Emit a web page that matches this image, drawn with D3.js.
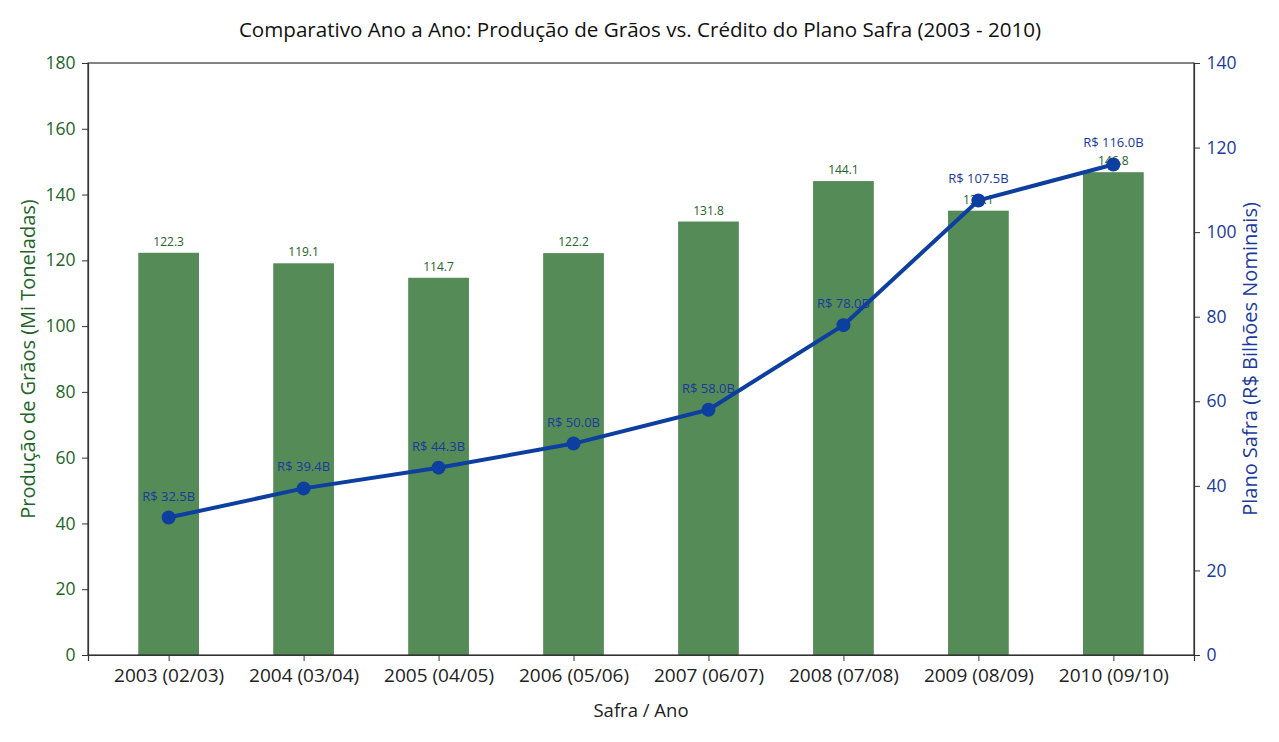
<!DOCTYPE html>
<html>
<head>
<meta charset="utf-8">
<script src="https://cdn.jsdelivr.net/npm/d3@7"></script>
<style>
  body { margin: 0; background: #fff; }
  svg { font-family: "Open Sans", Lato, sans-serif; }
</style>
</head>
<body>
<svg id="chart" width="1279" height="742"></svg>
<script>
// data
var safras = ["2003 (02/03)", "2004 (03/04)", "2005 (04/05)", "2006 (05/06)",
              "2007 (06/07)", "2008 (07/08)", "2009 (08/09)", "2010 (09/10)"];
var producao = [122.3, 119.1, 114.7, 122.2, 131.8, 144.1, 135.1, 146.8];
var credito = [32.5, 39.4, 44.3, 50.0, 58.0, 78.0, 107.5, 116.0];
var leftTicks = [0, 20, 40, 60, 80, 100, 120, 140, 160, 180];
var rightTicks = [0, 20, 40, 60, 80, 100, 120, 140];

var green = "#558b57", greenText = "#23642a", blue = "#0d3fa0", blueText = "#1a3a9c";

var svg = d3.select("#chart");
var margin = {left: 88, right: 85, top: 63, bottom: 87};
var width = 1279 - margin.left - margin.right;
var height = 742 - margin.top - margin.bottom;
var g = svg.append("g").attr("transform", `translate(${margin.left},${margin.top})`);

// bars 0.45 wide, matplotlib style margins
var barW = 0.45;
var pad = barW / 2 + (7 + barW) * 0.05;
var x = d3.scaleLinear().domain([-pad, 7 + pad]).range([0, width]);
var y = d3.scaleLinear().domain([0, 180]).range([height, 0]);
var y2 = d3.scaleLinear().domain([0, 140]).range([height, 0]);

g.selectAll("rect.bar")
  .data(producao)
  .join("rect")
  .attr("class", "bar")
  .attr("x", function (d, i) { return x(i - barW / 2); })
  .attr("width", x(barW) - x(0))
  .attr("y", function (d) { return y(d); })
  .attr("height", function (d) { return height - y(d); })
  .style("fill", green);

g.selectAll("text.barlab")
  .data(producao)
  .join("text")
  .attr("class", "barlab")
  .attr("x", function (d, i) { return x(i); })
  .attr("y", function (d) { return y(d) - 7; })
  .attr("text-anchor", "middle")
  .style("font-size", "12px")
  .style("fill", greenText)
  .text(function (d) { return d.toFixed(1); });

// credit line
var line = d3.line()
  .x(function (d, i) { return x(i); })
  .y(function (d) { return y2(d); });

g.append("path")
  .datum(credito)
  .attr("d", line)
  .style("fill", "none")
  .style("stroke", blue)
  .style("stroke-width", 4)
  .style("stroke-linejoin", "round");

g.selectAll("circle.pt")
  .data(credito)
  .join("circle")
  .attr("class", "pt")
  .attr("cx", function (d, i) { return x(i); })
  .attr("cy", function (d) { return y2(d); })
  .attr("r", 7)
  .style("fill", blue);

g.selectAll("text.ptlab")
  .data(credito)
  .join("text")
  .attr("class", "ptlab")
  .attr("x", function (d, i) { return x(i); })
  .attr("y", function (d) { return y2(d) - 17; })
  .attr("text-anchor", "middle")
  .style("font-size", "13px")
  .style("fill", blueText)
  .text(function (d) { return "R$ " + d.toFixed(1) + "B"; });

// frame
g.append("rect")
  .attr("width", width).attr("height", height)
  .style("fill", "none").style("stroke", "#333").style("stroke-width", 1.2);

// axes
var xAxis = g.append("g")
  .attr("transform", `translate(0,${height})`)
  .call(d3.axisBottom(x).tickValues(d3.range(safras.length))
    .tickFormat(function (i) { return safras[i]; }).tickSizeOuter(0).tickSize(6));
xAxis.selectAll("text").style("font-size", "19px").style("fill", "#222").attr("dy", "0.93em");

var yAxis = g.append("g")
  .call(d3.axisLeft(y).tickValues(leftTicks).tickSizeOuter(0).tickSize(6));
yAxis.selectAll("text").style("font-size", "17.5px").style("fill", greenText).attr("dx", "-0.2em");

var yAxis2 = g.append("g")
  .attr("transform", `translate(${width},0)`)
  .call(d3.axisRight(y2).tickValues(rightTicks).tickSizeOuter(0).tickSize(6));
yAxis2.selectAll("text").style("font-size", "17.5px").style("fill", blueText).attr("dx", "0.2em");

[xAxis, yAxis, yAxis2].forEach(function (a) {
  a.attr("font-family", null).attr("font-size", null);
  a.select(".domain").style("stroke", "#333").style("stroke-width", 1.2);
  a.selectAll(".tick line").style("stroke", "#333");
});

// titles
svg.append("text")
  .attr("x", 640).attr("y", 37)
  .attr("text-anchor", "middle")
  .style("font-size", "20.6px").style("fill", "#111")
  .text("Comparativo Ano a Ano: Produção de Grãos vs. Crédito do Plano Safra (2003 - 2010)");

svg.append("text")
  .attr("x", margin.left + width / 2).attr("y", 717)
  .attr("text-anchor", "middle")
  .style("font-size", "18.5px").style("fill", "#222")
  .text("Safra / Ano");

svg.append("text")
  .attr("transform", `translate(35,${margin.top + height / 2}) rotate(-90)`)
  .attr("text-anchor", "middle")
  .style("font-size", "20px").style("fill", greenText)
  .text("Produção de Grãos (Mi Toneladas)");

svg.append("text")
  .attr("transform", `translate(1257,${margin.top + height / 2}) rotate(-90)`)
  .attr("text-anchor", "middle")
  .style("font-size", "20px").style("fill", blueText)
  .text("Plano Safra (R$ Bilhões Nominais)");
</script>
</body>
</html>
